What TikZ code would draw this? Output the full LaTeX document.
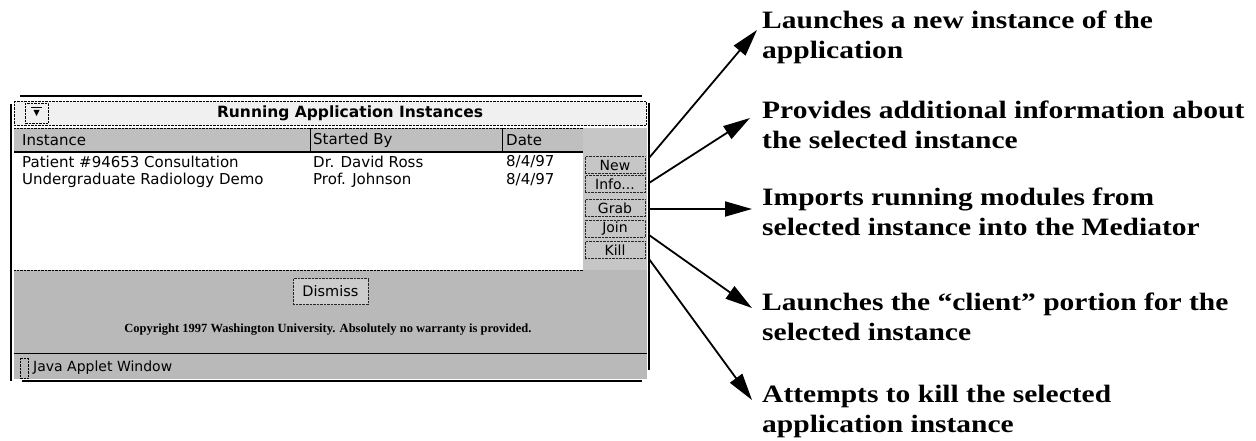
\documentclass[tikz,border=0pt]{standalone}
\usepackage{fontspec}
\setmainfont{Liberation Serif}
\newfontfamily\uifont{DejaVu Sans}
\newfontfamily\notefont[FakeStretch=1.18]{Liberation Serif}
\usetikzlibrary{arrows.meta}

\tikzset{
  winframe/.style={line width=2.6pt, black},
  uitext/.style={inner sep=0pt, font=\uifont\fontsize{15}{17}\selectfont},
  btn/.style={draw=black!85, densely dotted, fill=gray!45, minimum width=60pt,
    minimum height=17pt, inner sep=0pt, font=\uifont\fontsize{14}{16}\selectfont},
  note/.style={anchor=north west, inner sep=0pt, align=left,
    font=\notefont\bfseries\fontsize{25}{30}\selectfont},
  callout/.style={line width=1.8pt, -{Triangle[length=27pt,width=15pt]}}
}

\begin{document}
\begin{tikzpicture}[x=1pt,y=-1pt]
\useasboundingbox (0,0) rectangle (1256,441);

% ---- applet window ----
% title bar
\fill[gray!12] (14,101) rectangle (646,125);
\draw[densely dotted] (14,101) rectangle (646,125);
\draw[densely dotted, fill=gray!12] (25,103) rectangle (48,123);
\draw[line width=1pt] (31,108) -- (42,108);
\fill (33.5,110) -- (39.5,110) -- (36.5,116) -- cycle;
\node[uitext, font=\uifont\bfseries\fontsize{15.5}{18}\selectfont] (title) at (350,113) {Running Application Instances};

% column header
\fill[gray!50] (14,128) rectangle (583,152);
\draw[densely dotted] (14,128) -- (583,128);
\draw[line width=1.2pt] (14,152) -- (583,152);
\draw (310,128) -- (310,152);
\draw (502,128) -- (502,152) (583,128) -- (583,152);
\node[uitext, anchor=west] (hinst) at (22,140) {Instance};
\node[uitext, anchor=west] (hby) at (313,140) {Started By};
\node[uitext, anchor=west] (hdate) at (506,140) {Date};

% list rows
\fill[white] (14,153) rectangle (583,270);
\node[uitext, anchor=west] (r1a) at (22,162) {Patient \#94653 Consultation};
\node[uitext, anchor=west] (r1b) at (313,162) {Dr. David Ross};
\node[uitext, anchor=west] (r1c) at (506,162) {8/4/97};
\node[uitext, anchor=west] (r2a) at (22,180) {Undergraduate Radiology Demo};
\node[uitext, anchor=west] (r2b) at (313,180) {Prof. Johnson};
\node[uitext, anchor=west] (r2c) at (506,180) {8/4/97};

% button column
\fill[gray!45] (583,128) rectangle (647,270);
\node[btn] (new)  at (615,165)   {New};
\node[btn] (info) at (615,184)   {Info...};
\node[btn] (grab) at (615,208)   {Grab};
\node[btn] (join) at (615,228.5) {Join};
\node[btn] (kill) at (615,250)   {Kill};

% lower panel and status bar
\fill[gray!55] (14,270) rectangle (647,379);
\draw[densely dotted] (14,270) -- (583,270);
\node[btn, fill=gray!40, minimum width=75pt, minimum height=26pt,
  font=\uifont\fontsize{14.5}{16}\selectfont] (dismiss) at (330.5,291.5) {Dismiss};
\node[inner sep=0pt, font=\rmfamily\bfseries\fontsize{12.5}{14}\selectfont] (copy) at (328,330)
  {Copyright 1997 Washington University. Absolutely no warranty is provided.};
\draw[line width=1pt] (14,353) -- (647,353);
\draw[densely dotted] (20,358) rectangle (28,378);
\node[uitext, anchor=west, font=\uifont\fontsize{14}{16}\selectfont] (status) at (33,368) {Java Applet Window};

% outer frame
\draw[winframe] (20,96) -- (642,96);
\draw[winframe] (11,104) -- (11,381);
\draw[winframe] (22,381) -- (642,381);
\draw[line width=2.2pt] (649,103) -- (649,370);

% ---- explanations ----
\node[note] (nnew)  at (762,11)  {Launches a new instance of the\\application};
\node[note] (ninfo) at (762,101) {Provides additional information about\\the selected instance};
\node[note] (ngrab) at (762,188) {Imports running modules from\\selected instance into the Mediator};
\node[note] (njoin) at (762,293) {Launches the “client” portion for the\\selected instance};
\node[note] (nkill) at (762,385) {Attempts to kill the selected\\application instance};

% arrow origins on the window edge and arrow tips beside the notes
\coordinate (s1) at (649,158);
\coordinate (s2) at (649,183);
\coordinate (s3) at (649,209);
\coordinate (s4) at (649,235);
\coordinate (s5) at (649,259);
\coordinate (t1) at (757,30);
\coordinate (t2) at (750,118);
\coordinate (t3) at (752,209);
\coordinate (t4) at (752,308);
\coordinate (t5) at (752,400);

\draw[callout] (s1) -- (t1);
\draw[callout] (s2) -- (t2);
\draw[callout] (s3) -- (t3);
\draw[callout] (s4) -- (t4);
\draw[callout] (s5) -- (t5);
\end{tikzpicture}
\end{document}
